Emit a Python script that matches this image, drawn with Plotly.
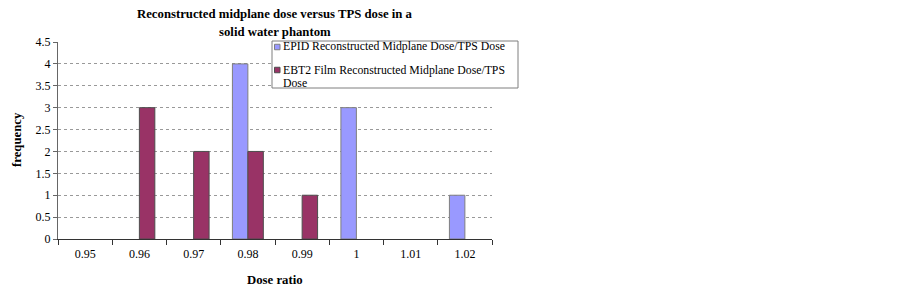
import plotly.graph_objects as go

categories = ["0.95", "0.96", "0.97", "0.98", "0.99", "1", "1.01", "1.02"]
epid = [0, 0, 0, 4, 0, 3, 0, 1]
film = [0, 3, 2, 2, 1, 0, 0, 0]
series_names = ["EPID Reconstructed Midplane Dose/TPS Dose",
                "EBT2 Film Reconstructed Midplane Dose/TPS", "Dose"]
title_lines = ["Reconstructed midplane dose versus TPS dose in a", "solid water phantom"]
x_title = "Dose ratio"
y_title = "frequency"
colors = ["#9999FF", "#993366"]
edge = ["#7f7f7f", "#4d4d4d"]

FF = "Liberation Serif"

# page body has an 8px margin; lay out so the plot lands at x 58..492, y 42..239 on screen
OFF = 8
PL, PR, PT, PB = 58, 492, 42, 239
W, H = 894, 281
L = PL - OFF
T = PT - OFF
R = W - (PR - OFF)
B = H - (PB - OFF)

def X(px):
    return (px - PL) / (PR - PL)

def Y(py):
    return (PB - py) / (PB - PT)

def nz(vals):
    return [v if v else None for v in vals]

fig = go.Figure()
for name, vals, c, e in [(series_names[0], epid, colors[0], edge[0]),
                         (series_names[1] + " " + series_names[2], film, colors[1], edge[1])]:
    fig.add_trace(go.Bar(x=categories, y=nz(vals), name=name,
                         marker=dict(color=c, line=dict(color=e, width=1))))

fig.update_layout(
    width=W, height=H,
    margin=dict(l=L, r=R, t=T, b=B, autoexpand=False),
    paper_bgcolor="white", plot_bgcolor="white",
    font=dict(family=FF, size=12, color="black"),
    barmode="group", bargap=0.43, bargroupgap=0,
    showlegend=False,
    xaxis=dict(type="category", showline=True, linecolor="#333", linewidth=1,
               ticks="outside", tickson="boundaries", ticklen=5, tickcolor="#333",
               ticklabelstandoff=4,
               showgrid=False, automargin=False,
               tickfont=dict(size=12, family=FF)),
    yaxis=dict(range=[0, 4.5], dtick=0.5, showline=True, linecolor="#666", linewidth=1,
               ticks="outside", ticklen=4, tickcolor="#666",
               showgrid=True, gridcolor="#999", griddash="dot", gridwidth=1,
               zeroline=False, automargin=False,
               tickfont=dict(size=12, family=FF)),
)

def text(t, px, py, size=12.75, xanchor="center", angle=0):
    fig.add_annotation(text=t, xref="paper", yref="paper", x=X(px), y=Y(py),
                       xanchor=xanchor, yanchor="middle", showarrow=False,
                       textangle=angle, font=dict(size=size, family=FF))

text("<b>%s</b>" % title_lines[0], 275, 14)
text("<b>%s</b>" % title_lines[1], 275, 32)
text("<b>%s</b>" % x_title, 275, 280)
text("<b>%s</b>" % y_title, 17, 140, angle=-90)

# legend box drawn by hand to match the compact original
fig.add_shape(type="rect", xref="paper", yref="paper",
              x0=X(272), x1=X(518), y0=Y(88), y1=Y(41),
              line=dict(color="#7f7f7f", width=1), fillcolor="white", layer="above")
for i, yy in enumerate([47, 70]):
    fig.add_shape(type="rect", xref="paper", yref="paper",
                  x0=X(274.5), x1=X(280), y0=Y(yy + 2.75), y1=Y(yy - 2.75),
                  line=dict(color=edge[i], width=1), fillcolor=colors[i], layer="above")
text(series_names[0], 280.5, 47, size=11.75, xanchor="left")
text(series_names[1], 280.5, 70, size=11.75, xanchor="left")
text(series_names[2], 280.5, 83, size=11.75, xanchor="left")

fig.write_html("out.html")
